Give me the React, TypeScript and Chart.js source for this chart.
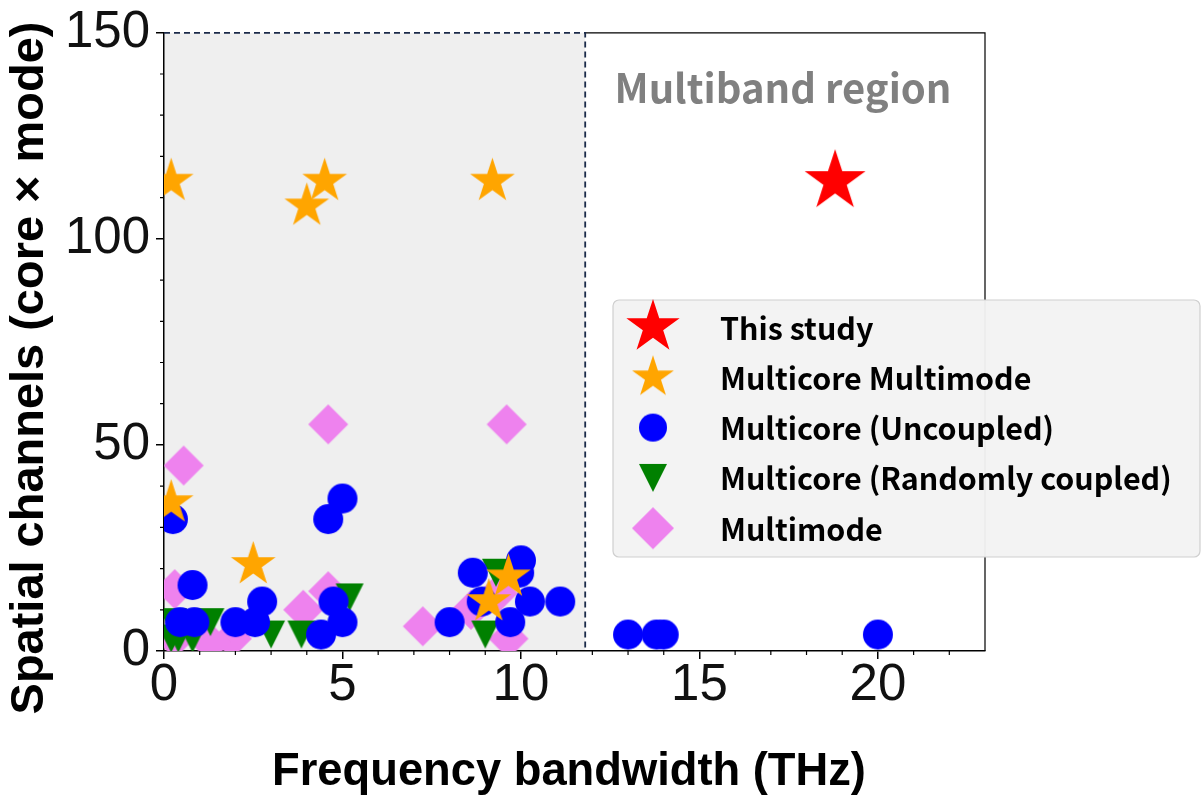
import React, { useEffect, useRef } from "react";
import { Chart, registerables } from "chart.js";

Chart.register(...registerables);

// ---------- data ----------
const seriesNames = [
  "This study",
  "Multicore Multimode",
  "Multicore (Uncoupled)",
  "Multicore (Randomly coupled)",
  "Multimode",
];

const thisStudyX = [18.8];
const thisStudyY = [114];

const mcmmX = [0.2, 4.5, 4.0, 9.2, 0.2, 2.5, 9.65, 9.1];
const mcmmY = [114, 114, 108, 114, 36, 21, 18, 12];

const uncoupledX = [0.25, 5.0, 4.6, 0.8, 0.45, 0.85, 2.0, 2.75, 2.55, 4.75, 5.0, 4.4, 8.65, 10.0, 9.95, 10.25, 11.1, 8.9, 8.0, 9.7, 13.0, 13.8, 14.0, 20.0];
const uncoupledY = [32, 37, 32, 16, 7, 7, 7, 12, 7, 12, 7, 4, 19, 22, 19, 12, 12, 12, 7, 7, 4, 4, 4, 4];

const randomX = [0.2, 0.4, 0.8, 0.25, 1.3, 3.0, 3.85, 5.2, 9.3, 9.0];
const randomY = [3, 3, 3, 7, 7, 4, 4, 13, 19, 4];

const multimodeX = [0.55, 4.6, 9.6, 0.3, 4.6, 3.9, 8.6, 9.35, 7.25, 9.65, 1.9, 0.3, 1.3];
const multimodeY = [45, 55, 55, 15, 14.5, 10, 10, 14, 6, 3, 3, 3, 2];

const xTicks = [0, 5, 10, 15, 20];
const yTicks = [0, 50, 100, 150];
const xMax = 23;
const yMax = 150;
const regionEnd = 11.8;
const regionLabel = "Multiband region";
const xTitle = "Frequency bandwidth (THz)";
const yTitle = "Spatial channels (core × mode)";

// ---------- marker images ----------
function makeCanvas(w: number, h: number) {
  const c = document.createElement("canvas");
  c.width = w;
  c.height = h;
  return c;
}
function starImg(R: number, color: string) {
  const s = Math.ceil(2 * R) + 4;
  const c = makeCanvas(s, s);
  const g = c.getContext("2d")!;
  g.translate(s / 2, s / 2);
  g.beginPath();
  for (let i = 0; i < 10; i++) {
    const a = -Math.PI / 2 + (i * Math.PI) / 5;
    const r = i % 2 ? R * 0.382 : R;
    const px = r * Math.cos(a);
    const py = r * Math.sin(a);
    if (i === 0) g.moveTo(px, py);
    else g.lineTo(px, py);
  }
  g.closePath();
  g.fillStyle = color;
  g.fill();
  return c;
}
function circleImg(r: number, color: string) {
  const s = Math.ceil(2 * r) + 4;
  const c = makeCanvas(s, s);
  const g = c.getContext("2d")!;
  g.beginPath();
  g.arc(s / 2, s / 2, r, 0, Math.PI * 2);
  g.fillStyle = color;
  g.fill();
  return c;
}
function triDownImg(h: number, color: string) {
  const s = Math.ceil(2 * h) + 4;
  const c = makeCanvas(s, s);
  const g = c.getContext("2d")!;
  g.translate(s / 2, s / 2);
  g.beginPath();
  g.moveTo(0, h);
  g.lineTo(-h, -h);
  g.lineTo(h, -h);
  g.closePath();
  g.fillStyle = color;
  g.fill();
  return c;
}
function diamondImg(h: number, color: string) {
  const s = Math.ceil(2 * h) + 4;
  const c = makeCanvas(s, s);
  const g = c.getContext("2d")!;
  g.translate(s / 2, s / 2);
  g.beginPath();
  g.moveTo(0, -h);
  g.lineTo(h, 0);
  g.lineTo(0, h);
  g.lineTo(-h, 0);
  g.closePath();
  g.fillStyle = color;
  g.fill();
  return c;
}

function fitSize(text: string, font: (s: number) => string, width: number) {
  const c = makeCanvas(10, 10).getContext("2d")!;
  c.font = font(100);
  const w = c.measureText(text).width;
  return (100 * width) / w;
}

const pts = (xs: number[], ys: number[]) => xs.map((x, i) => ({ x, y: ys[i] }));

export default function App() {
  const ref = useRef<HTMLCanvasElement>(null);

  useEffect(() => {
    document.body.style.margin = "0";
    const canvas = ref.current!;

    const colors = ["#ff0000", "#ffa500", "#0000ff", "#008000", "#ee82ee"];
    const plotImgs = [
      starImg(32, colors[0]),
      starImg(23.5, colors[1]),
      circleImg(15, colors[2]),
      triDownImg(14, colors[3]),
      diamondImg(20, colors[4]),
    ];
    const legendImgs = [
      starImg(28, colors[0]),
      starImg(22, colors[1]),
      circleImg(14, colors[2]),
      triDownImg(14, colors[3]),
      diamondImg(21, colors[4]),
    ];

    const sansB = (s: number) => `bold ${s}px "Liberation Sans", Arial, sans-serif`;
    const jpB = (s: number) => `bold ${s}px "Noto Sans CJK JP", "Noto Sans", sans-serif`;
    const xTitleSize = fitSize(xTitle, sansB, 594);
    const yTitleSize = fitSize(yTitle, sansB, 693);
    const regionSize = fitSize(regionLabel, jpB, 337);
    const legendSize = fitSize(seriesNames[3], jpB, 452);

    const decor = {
      id: "decor",
      beforeDraw(chart: any) {
        const { ctx, chartArea: a, scales } = chart;
        const xr = scales.x.getPixelForValue(regionEnd);
        ctx.save();
        ctx.fillStyle = "#ffffff";
        ctx.fillRect(0, 0, chart.width, chart.height);
        ctx.fillStyle = "#efefef";
        ctx.fillRect(a.left, a.top, xr - a.left, a.bottom - a.top);
        ctx.restore();
      },
      beforeDatasetsDraw(chart: any) {
        const { ctx, chartArea: a, scales } = chart;
        const xr = scales.x.getPixelForValue(regionEnd);
        ctx.save();
        ctx.strokeStyle = "#000";
        ctx.lineWidth = 1.2;
        ctx.beginPath();
        ctx.moveTo(xr, a.top);
        ctx.lineTo(a.right, a.top);
        ctx.lineTo(a.right, a.bottom);
        ctx.stroke();
        ctx.strokeStyle = "#1b2a49";
        ctx.lineWidth = 1.8;
        ctx.setLineDash([6, 4]);
        ctx.beginPath();
        ctx.moveTo(a.left, a.top);
        ctx.lineTo(xr, a.top);
        ctx.lineTo(xr, a.bottom);
        ctx.stroke();
        ctx.setLineDash([]);
        ctx.strokeStyle = "#000";
        ctx.lineWidth = 1.2;
        ctx.beginPath();
        for (let v = 1; v < xMax; v++) {
          if (v % 5 === 0) continue;
          const px = scales.x.getPixelForValue(v);
          ctx.moveTo(px, a.bottom);
          ctx.lineTo(px, a.bottom + 4);
        }
        for (let v = 10; v < yMax; v += 10) {
          if (v % 50 === 0) continue;
          const py = scales.y.getPixelForValue(v);
          ctx.moveTo(a.left, py);
          ctx.lineTo(a.left - 4, py);
        }
        ctx.stroke();
        ctx.restore();
      },
      afterDraw(chart: any) {
        const { ctx } = chart;
        ctx.save();
        ctx.fillStyle = "#808080";
        ctx.font = jpB(regionSize);
        ctx.textAlign = "center";
        ctx.textBaseline = "alphabetic";
        ctx.fillText(regionLabel, 783, 103);
        ctx.fillStyle = "#000";
        ctx.font = sansB(xTitleSize);
        ctx.textBaseline = "middle";
        ctx.fillText(xTitle, 569, 773);
        ctx.save();
        ctx.translate(30, 368);
        ctx.rotate(-Math.PI / 2);
        ctx.font = sansB(yTitleSize);
        ctx.fillText(yTitle, 0, 0);
        ctx.restore();
        const bx = 613, by = 300, bw = 587, bh = 257;
        ctx.beginPath();
        ctx.roundRect(bx, by, bw, bh, 6);
        ctx.fillStyle = "rgba(242,242,242,0.96)";
        ctx.fill();
        ctx.strokeStyle = "#cfcfcf";
        ctx.lineWidth = 1.2;
        ctx.stroke();
        ctx.font = jpB(legendSize);
        ctx.textAlign = "left";
        ctx.textBaseline = "middle";
        ctx.fillStyle = "#000";
        for (let i = 0; i < seriesNames.length; i++) {
          const cy = 327 + i * 50.3;
          const img = legendImgs[i];
          ctx.drawImage(img, 653 - img.width / 2, cy - img.height / 2);
          ctx.fillText(seriesNames[i], 720, cy + 1);
        }
        ctx.restore();
      },
    };

    const sets = [
      pts(thisStudyX, thisStudyY),
      pts(mcmmX, mcmmY),
      pts(uncoupledX, uncoupledY),
      pts(randomX, randomY),
      pts(multimodeX, multimodeY),
    ];

    const chart = new Chart(canvas, {
      type: "scatter",
      data: {
        datasets: sets.map((d, i) => ({
          label: seriesNames[i],
          data: d,
          pointStyle: plotImgs[i] as any,
          pointRadius: 15,
          backgroundColor: colors[i],
          borderColor: colors[i],
          clip: 0,
        })),
      },
      options: {
        animation: false,
        responsive: false,
        devicePixelRatio: 1,
        layout: { padding: { top: 30, right: 219, left: 0, bottom: 0 } },
        plugins: { legend: { display: false }, tooltip: { enabled: false } },
        scales: {
          x: {
            type: "linear",
            min: 0,
            max: xMax,
            afterFit: (s: any) => {
              s.height = 145;
            },
            afterBuildTicks: (s: any) => {
              s.ticks = xTicks.map((v) => ({ value: v }));
            },
            ticks: {
              color: "#111",
              padding: 0,
              font: { family: '"Liberation Sans", Arial, sans-serif', size: 51, lineHeight: 1.05 },
            },
            grid: { display: true, drawOnChartArea: false, drawTicks: true, tickLength: 8, color: "#000", lineWidth: 1.5 },
            border: { display: true, color: "#000", width: 1.5 },
          },
          y: {
            type: "linear",
            min: 0,
            max: yMax,
            afterFit: (s: any) => {
              s.width = 164;
            },
            afterBuildTicks: (s: any) => {
              s.ticks = yTicks.map((v) => ({ value: v }));
            },
            ticks: {
              color: "#111",
              padding: 6,
              font: { family: '"Liberation Sans", Arial, sans-serif', size: 51, lineHeight: 1.05 },
            },
            grid: { display: true, drawOnChartArea: false, drawTicks: true, tickLength: 8, color: "#000", lineWidth: 1.5 },
            border: { display: true, color: "#000", width: 1.5 },
          },
        },
      },
      plugins: [decor],
    } as any);

    return () => chart.destroy();
  }, []);

  return (
    <div style={{ width: 1204, height: 796, position: "relative" }}>
      <canvas ref={ref} width={1204} height={796} style={{ display: "block" }} />
    </div>
  );
}
